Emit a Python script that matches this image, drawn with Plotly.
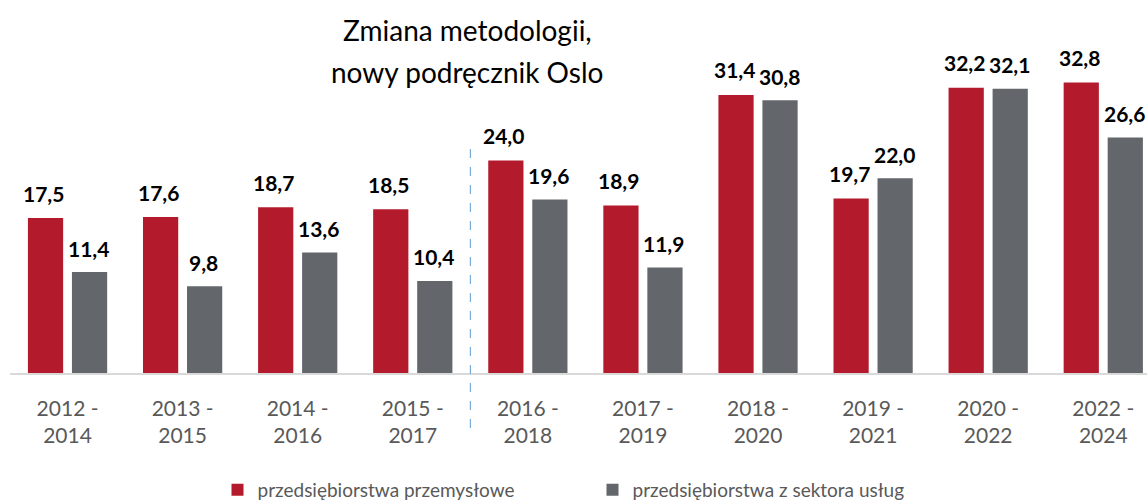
import plotly.graph_objects as go

categories = ["2012 -<br>2014", "2013 -<br>2015", "2014 -<br>2016", "2015 -<br>2017", "2016 -<br>2018",
              "2017 -<br>2019", "2018 -<br>2020", "2019 -<br>2021", "2020 -<br>2022", "2022 -<br>2024"]
przemyslowe = [17.5, 17.6, 18.7, 18.5, 24.0, 18.9, 31.4, 19.7, 32.2, 32.8]
uslugi = [11.4, 9.8, 13.6, 10.4, 19.6, 11.9, 30.8, 22.0, 32.1, 26.6]
series_names = ["przedsiębiorstwa przemysłowe", "przedsiębiorstwa z sektora usług"]

RED = "#B31B2C"
GRAY = "#63666A"
FONT = "Lato"

def fmt(v):
    return f"{v:.1f}".replace(".", ",")

fig = go.Figure()
fig.add_trace(go.Bar(x=categories, y=przemyslowe, name=series_names[0], marker_color=RED,
                     marker_line_width=0))
fig.add_trace(go.Bar(x=categories, y=uslugi, name=series_names[1], marker_color=GRAY,
                     marker_line_width=0))

ann = []
for c, v in zip(categories, przemyslowe):
    ann.append(dict(x=c, y=v, xref="x", yref="y", text=fmt(v), showarrow=False,
                    xshift=-24, yshift=25, yanchor="middle",
                    font=dict(family=FONT, size=21, color="#000000", weight="bold")))
for c, v in zip(categories, uslugi):
    ann.append(dict(x=c, y=v, xref="x", yref="y", text=fmt(v), showarrow=False,
                    xshift=21, yshift=24, yanchor="middle",
                    font=dict(family=FONT, size=21, color="#000000", weight="bold")))

ann.append(dict(x=(467 - 10) / 1137, y=(373 - 30) / 373, xref="paper", yref="paper",
                text="Zmiana metodologii,", showarrow=False, xanchor="center", yanchor="middle",
                font=dict(family=FONT, size=28, color="#000000")))
ann.append(dict(x=(467 - 10) / 1137, y=(373 - 72) / 373, xref="paper", yref="paper",
                text="nowy podręcznik Oslo", showarrow=False, xanchor="center", yanchor="middle",
                font=dict(family=FONT, size=28, color="#000000")))

fig.update_layout(
    width=1147, height=503,
    margin=dict(l=10, r=0, t=0, b=130, autoexpand=False),
    paper_bgcolor="white", plot_bgcolor="white",
    barmode="group", bargap=0.235, bargroupgap=0.2,
    font=dict(family=FONT),
    annotations=ann,
    shapes=[dict(type="line", xref="x", yref="paper", x0=3.5, x1=3.5,
                 y0=(373 - 428) / 373, y1=(373 - 140) / 373,
                 line=dict(color="#5B9BD5", width=1, dash="dash"))],
    showlegend=True,
    legend=dict(orientation="h", x=0.5 + 14 / 1137, xanchor="center", yref="container",
                y=(503 - 490) / 503, yanchor="middle",
                font=dict(family=FONT, size=19, color="#595959"),
                itemwidth=30, entrywidth=330),
    xaxis=dict(range=[-0.5, 9.38], showline=True, linecolor="#D9D9D9", linewidth=1.5,
               showgrid=False, ticks="", ticklabelstandoff=16, automargin=False,
               tickfont=dict(family=FONT, size=21, color="#595959")),
    yaxis=dict(range=[0, 373 / 8.857], visible=False, showgrid=False, zeroline=False,
               automargin=False),
)

fig.write_html("out.html", config={"displayModeBar": False},
               post_script="document.body.style.margin='0';document.body.style.overflow='hidden';")
